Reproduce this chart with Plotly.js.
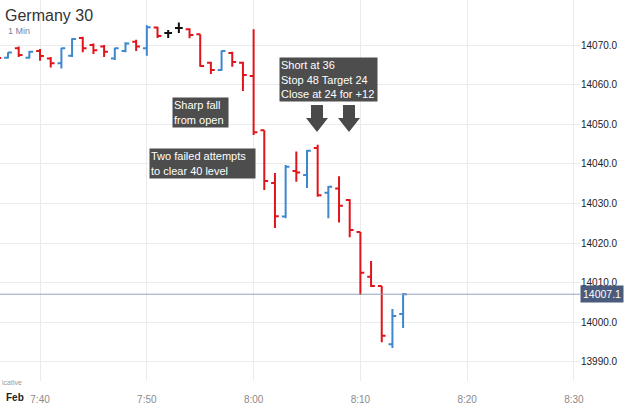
<!DOCTYPE html>
<html>
<head>
<meta charset="utf-8">
<script src="https://cdn.plot.ly/plotly-3.0.1.min.js"></script>
<style>html,body{margin:0;padding:0;background:#fff;overflow:hidden}#chart{width:625px;height:406px}</style>
</head>
<body>
<div id="chart"></div>
<script>
var day = '2021-02-01 ';
var times = ['07:36','07:37','07:38','07:39','07:40','07:41','07:42','07:43','07:44','07:45','07:46','07:47','07:48','07:49','07:50','07:51','07:52','07:53','07:54','07:55','07:56','07:57','07:58','07:59','08:00','08:01','08:02','08:03','08:04','08:05','08:06','08:07','08:08','08:09','08:10','08:11','08:12','08:13','08:14'];
var opens  = [14067.8,14066.8,14069.2,14066.8,14068.5,14066.6,14065.4,14067.3,14071.8,14070.0,14069.6,14066.6,14068.5,14070.8,14069.2,14074.4,14073.0,14074.3,14074.0,14072.7,14065.5,14063.7,14068.0,14065.5,14062.2,14048.5,14035.2,14026.7,14038.2,14037.2,14044.0,14032.7,14033.8,14030.9,14022.8,14011.5,14009.2,13994.5,14002.1];
var highs  = [14068.3,14068.2,14069.6,14068.5,14069.0,14067.0,14069.3,14071.7,14072.1,14070.4,14070.0,14069.3,14070.7,14071.3,14075.0,14074.6,14073.8,14075.7,14074.2,14072.7,14065.8,14068.6,14068.3,14065.8,14074.0,14048.5,14037.7,14039.7,14043.1,14043.5,14044.8,14034.4,14036.9,14031.1,14022.8,14015.5,14009.2,14003.4,14007.4];
var lows   = [14066.3,14066.6,14067.0,14066.6,14066.0,14064.3,14064.1,14067.0,14068.2,14067.7,14067.0,14066.2,14068.2,14068.5,14067.3,14071.8,14071.8,14073.0,14071.7,14064.5,14062.7,14063.5,14064.5,14058.4,14047.3,14033.4,14023.8,14026.3,14035.5,14033.9,14031.7,14026.3,14025.2,14021.5,14006.9,14008.9,13995.0,13993.5,13998.6];
var closes = [14066.7,14068.1,14067.5,14068.3,14067.2,14065.4,14069.2,14071.5,14069.2,14068.7,14068.3,14069.2,14070.4,14069.6,14074.5,14072.3,14073.0,14074.3,14072.5,14064.7,14063.7,14068.5,14065.7,14062.4,14048.0,14035.7,14026.8,14039.3,14037.8,14043.3,14032.1,14034.2,14029.4,14023.3,14012.5,14009.2,13996.6,14001.6,14007.1];
var yTicks = [13990,14000,14010,14020,14030,14040,14050,14060,14070];
var xTickLabels = ['7:40','7:50','8:00','8:10','8:20','8:30'];

function pick(idx){
  return {
    x: idx.map(function(i){return day+times[i];}),
    open: idx.map(function(i){return opens[i];}),
    high: idx.map(function(i){return highs[i];}),
    low: idx.map(function(i){return lows[i];}),
    close: idx.map(function(i){return closes[i];})
  };
}
var moved = [], flat = [];
times.forEach(function(t,i){ (opens[i]===closes[i] ? flat : moved).push(i); });

var red = '#e0151b', blue = '#3d87cc';
var a = pick(moved), b = pick(flat);
var tr1 = Object.assign({type:'ohlc', tickwidth:0.36, hoverinfo:'skip', showlegend:false,
  increasing:{line:{color:blue,width:2}}, decreasing:{line:{color:red,width:2}}}, a);
var tr2 = Object.assign({type:'ohlc', tickwidth:0.36, hoverinfo:'skip', showlegend:false,
  increasing:{line:{color:'#111',width:2}}, decreasing:{line:{color:'#111',width:2}}}, b);

var last = closes[closes.length-1];
var FF = 'Arial, Liberation Sans, sans-serif';
var boxFont = {family:FF, size:11, color:'#fff'};
var arrowPath = 'M-6,0 L6,0 L6,-13 L11,-13 L0,-27 L-11,-13 L-6,-13 Z';

var layout = {
  width:625, height:406,
  margin:{l:0, r:45, t:0, b:25},
  paper_bgcolor:'#fff', plot_bgcolor:'#fff',
  font:{family:FF},
  title:{text:'Germany 30', x:5/625, xanchor:'left', xref:'container', y:1-15/406, yanchor:'middle', yref:'container',
    font:{size:16, color:'#333', family:FF}},
  xaxis:{type:'date', range:[day+'07:36:15', day+'08:30:34'], showgrid:true, gridcolor:'#ebebeb', gridwidth:1,
    tickvals: xTickLabels.map(function(t){return day+(t.length<5?'0'+t:t);}), ticktext:xTickLabels,
    tickfont:{size:10, color:'#8a8a8a'}, ticks:'outside', ticklen:9, tickcolor:'rgba(0,0,0,0)',
    zeroline:false, showline:false, rangeslider:{visible:false}, fixedrange:true},
  yaxis:{side:'right', range:[13985.2, 14081.36], tickvals:yTicks, ticktext:yTicks.map(function(v){return v.toFixed(1);}),
    showgrid:true, gridcolor:'#ebebeb', gridwidth:1, zeroline:false, showline:false, ticks:'',
    tickfont:{size:10, color:'#222'}, fixedrange:true},
  shapes:[
    {type:'line', xref:'paper', x0:0, x1:1, yref:'y', y0:last, y1:last, line:{color:'#95a3bd', width:1}},
    {type:'path', xref:'paper', yref:'paper', xsizemode:'pixel', ysizemode:'pixel', xanchor:317/580, yanchor:1-105/381,
      path:arrowPath, fillcolor:'#4a4a4a', line:{width:0}},
    {type:'path', xref:'paper', yref:'paper', xsizemode:'pixel', ysizemode:'pixel', xanchor:349/580, yanchor:1-105/381,
      path:arrowPath, fillcolor:'#4a4a4a', line:{width:0}}
  ],
  annotations:[
    {xref:'paper', yref:'paper', x:6/580, y:1-31/381, xanchor:'left', yanchor:'middle', showarrow:false,
      text:'1 Min', font:{size:9, color:'#8080a0'}},
    {xref:'paper', yref:'paper', x:172/580, y:1-97/381, xanchor:'left', yanchor:'top', showarrow:false, align:'left',
      text:'Sharp fall<br>from open', bgcolor:'#4d4d4d', borderpad:1, width:53, height:27, font:boxFont},
    {xref:'paper', yref:'paper', x:149/580, y:1-148/381, xanchor:'left', yanchor:'top', showarrow:false, align:'left',
      text:'Two failed attempts<br>to clear 40 level', bgcolor:'#4d4d4d', borderpad:1, width:103, height:27, font:boxFont},
    {xref:'paper', yref:'paper', x:279/580, y:1-57/381, xanchor:'left', yanchor:'top', showarrow:false, align:'left',
      text:'Short at 36<br>Stop 48 Target 24<br>Close at 24 for +12', bgcolor:'#4d4d4d', borderpad:1, width:95, height:41, font:boxFont},
    {xref:'paper', yref:'y', x:1, y:last, xanchor:'left', yanchor:'middle', showarrow:false,
      text:last.toFixed(1), bgcolor:'#4a5b7b', borderpad:2, font:{size:10.5, color:'#fff'}},
    {xref:'paper', yref:'paper', x:0, y:(381-383)/381, xanchor:'left', yanchor:'middle', showarrow:false,
      text:'icative', font:{size:7, color:'#999'}},
    {xref:'paper', yref:'paper', x:4/580, y:(381-397)/381, xanchor:'left', yanchor:'middle', showarrow:false,
      text:'<b>Feb</b>', font:{size:10, color:'#222'}}
  ]
};
Plotly.newPlot('chart', [tr1, tr2], layout, {staticPlot:true, displayModeBar:false});
</script>
</body>
</html>
